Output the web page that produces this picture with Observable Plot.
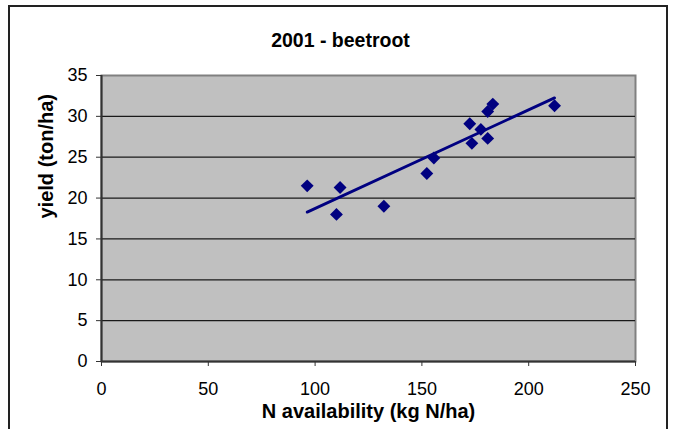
<!DOCTYPE html>
<html>
<head>
<meta charset="utf-8">
<script src="https://cdn.jsdelivr.net/npm/d3@7"></script>
<script src="https://cdn.jsdelivr.net/npm/@observablehq/plot@0.6"></script>
<style>
  html, body { margin: 0; padding: 0; background: #fff; }
  #wrap { position: relative; width: 673px; height: 429px; overflow: hidden; }
  #border { position: absolute; left: 8px; top: 5px; width: 660px; height: 440px; border: 2px solid #222; box-sizing: border-box; pointer-events: none; }
  svg { display: block; }
</style>
</head>
<body>
<div id="wrap"><div id="border"></div></div>
<script>
const title = "2001 - beetroot";
const xLabel = "N availability (kg N/ha)";
const yLabel = "yield (ton/ha)";
const nAvailability = [96.3, 110.0, 111.7, 132.2, 152.3, 155.6, 172.4, 173.4, 177.6, 180.8, 180.8, 183.2, 212.1];
const yieldTonHa   = [21.5, 18.0, 21.3, 19.0, 23.0, 24.9, 29.1, 26.7, 28.4, 27.3, 30.6, 31.5, 31.3];
const xTicks = [0, 50, 100, 150, 200, 250];
const yTicks = [0, 5, 10, 15, 20, 25, 30, 35];
const gridTicks = [5, 10, 15, 20, 25, 30];

const data = nAvailability.map((x, i) => ({x, y: yieldTonHa[i]}));
const navy = "#000080";
const font = "'Liberation Sans', Arial, sans-serif";

const chart = Plot.plot({
  width: 673,
  height: 429,
  marginLeft: 101,
  marginRight: 38,
  marginTop: 75,
  marginBottom: 68,
  style: {fontFamily: font, fontSize: "18px", color: "#000", background: "transparent"},
  x: {domain: [0, 250]},
  y: {domain: [0, 35]},
  marks: [
    Plot.frame({fill: "#C0C0C0", stroke: "#808080", strokeWidth: 2}),
    Plot.ruleY(gridTicks, {stroke: "#1a1a1a", strokeWidth: 1.2}),
    Plot.ruleX([0], {stroke: "#333", strokeWidth: 2}),
    Plot.ruleY([0], {stroke: "#333", strokeWidth: 2}),
    Plot.axisY({ticks: yTicks, tickSize: 5, tickPadding: 9, label: null, fontSize: 18, stroke: "#333"}),
    Plot.axisX({ticks: xTicks, tickSize: 5, tickPadding: 16, label: null, fontSize: 18, stroke: "#333"}),
    Plot.linearRegressionY(data, {x: "x", y: "y", ci: 0, stroke: navy, strokeWidth: 2.8}),
    Plot.dot(data, {x: "x", y: "y", symbol: "diamond2", r: 5.8, fill: navy, stroke: "none"}),
    Plot.text([title], {frameAnchor: "top", dx: -28, dy: -42, fontSize: 19.5, fontWeight: "bold", text: d => d, style: "letter-spacing:0.6px"}),
    Plot.text([xLabel], {frameAnchor: "bottom", dy: 56, fontSize: 20, fontWeight: "bold", text: d => d}),
    Plot.text([yLabel], {frameAnchor: "left", dx: -55, rotate: -90, fontSize: 20, fontWeight: "bold", text: d => d})
  ]
});
document.getElementById("wrap").prepend(chart);
</script>
</body>
</html>
